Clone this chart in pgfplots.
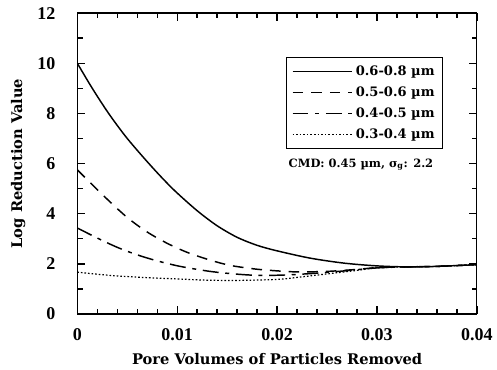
\documentclass[border=0pt]{standalone}
\usepackage{pgfplots}
\pgfplotsset{compat=1.18}
\usepackage{fontspec}
\setmainfont{Liberation Serif}
\newfontfamily\dvs{DejaVu Serif}
\begin{document}
\begin{tikzpicture}
\begin{axis}[
  scale only axis, width=300pt, height=226pt,
  xmin=0, xmax=0.04, ymin=0, ymax=12,
  scaled x ticks=false,
  xtick={0,0.01,0.02,0.03,0.04},
  xticklabels={0,0.01,0.02,0.03,0.04},
  ytick={0,2,4,6,8,10,12},
  minor xtick={0.002,0.004,0.006,0.008,0.012,0.014,0.016,0.018,0.022,0.024,0.026,0.028,0.032,0.034,0.036,0.038},
  minor ytick={1,3,5,7,9,11},
  tick align=inside, tick pos=both,
  major tick length=6pt, minor tick length=4pt,
  every tick/.style={black, line width=1pt},
  every minor tick/.style={black, line width=1pt},
  tick label style={font=\fontsize{13.5}{15}\selectfont\bfseries},
  /pgf/number format/assume math mode=true,
  xticklabel style={yshift=-7pt},
  yticklabel style={xshift=-13pt},
  xlabel={\dvs\bfseries Pore Volumes of Particles Removed},
  ylabel={\dvs\bfseries Log Reduction Value},
  label style={font=\fontsize{11}{13}\selectfont},
  xlabel style={yshift=-3pt},
  ylabel style={yshift=2pt},
  axis line style={line width=0.9pt},
  legend style={at={(axis cs:0.0209,10.24)}, anchor=north west,
    font=\dvs\fontsize{9.8}{11}\selectfont\bfseries, draw=black, line width=0.6pt,
    row sep=3pt, inner xsep=4pt, inner ysep=4pt},
  legend cell align=left,
  legend image code/.code={\draw[#1] (0pt,0pt) -- (45pt,0pt);},
]
\addplot[black, line width=1.1pt, smooth] coordinates {
(0,10.0) (0.0015,9.0) (0.0031,8.02) (0.0048,7.1) (0.0065,6.3) (0.0082,5.55) (0.0098,4.9) (0.012,4.12) (0.014,3.52) (0.016,3.06) (0.018,2.74) (0.02,2.52) (0.0233,2.23) (0.0267,2.03) (0.03,1.92) (0.033,1.88) (0.036,1.9) (0.04,1.97)};
\addlegendentry{0.6-0.8 µm}
\addplot[black, line width=1.1pt, smooth, dash pattern=on 8pt off 6pt] coordinates {
(0,5.75) (0.0027,4.69) (0.005,3.85) (0.007,3.27) (0.009,2.82) (0.011,2.46) (0.0133,2.15) (0.0153,1.94) (0.0177,1.80) (0.0197,1.73) (0.022,1.68) (0.025,1.70) (0.028,1.78) (0.03,1.85) (0.033,1.88) (0.036,1.9) (0.04,1.97)};
\addlegendentry{0.5-0.6 µm}
\addplot[black, line width=1.1pt, smooth, dash pattern=on 12pt off 5pt on 3pt off 5pt] coordinates {
(0,3.43) (0.002,3.03) (0.004,2.66) (0.006,2.36) (0.008,2.12) (0.0103,1.90) (0.0133,1.70) (0.016,1.59) (0.0183,1.54) (0.021,1.56) (0.024,1.63) (0.027,1.73) (0.03,1.84) (0.033,1.88) (0.036,1.9) (0.04,1.97)};
\addlegendentry{0.4-0.5 µm}
\addplot[black, line width=0.9pt, smooth, dash pattern=on 1.2pt off 1.5pt] coordinates {
(0,1.67) (0.0033,1.54) (0.007,1.45) (0.01,1.40) (0.013,1.35) (0.016,1.34) (0.02,1.38) (0.022,1.46) (0.025,1.60) (0.028,1.74) (0.03,1.84) (0.033,1.88) (0.036,1.9) (0.04,1.97)};
\addlegendentry{0.3-0.4 µm}
\node[font=\dvs\fontsize{8.6}{10}\selectfont\bfseries] at (axis cs:0.0284,5.95) {CMD: 0.45 µm, σ\textsubscript{g}: 2.2};
\end{axis}
\path (current bounding box.west) ++(-5pt,0pt);
\path (current bounding box.north) ++(0pt,2pt);
\end{tikzpicture}
\end{document}
